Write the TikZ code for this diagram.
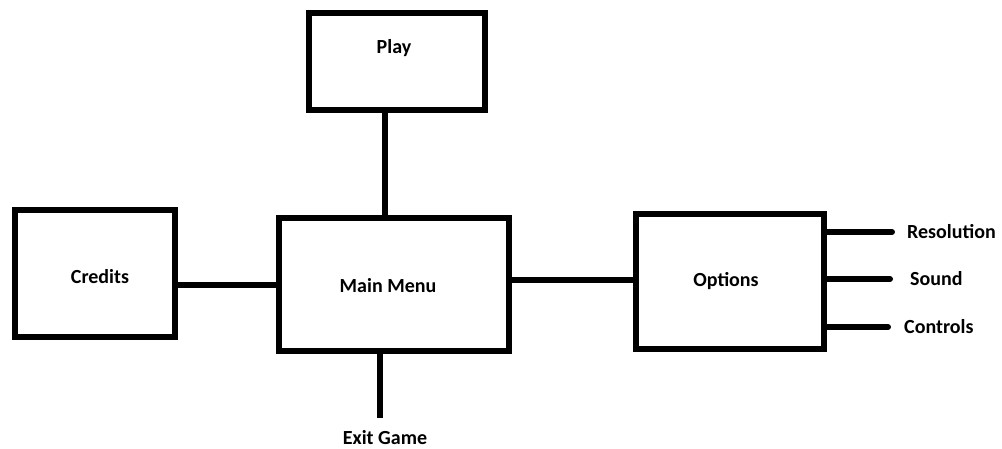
\documentclass[tikz,border=0pt]{standalone}
\usepackage{fontspec}
\setmainfont{Carlito}
\begin{document}
\begin{tikzpicture}[x=1pt,y=-1pt,
  boxnode/.style={draw=black,line width=6pt,fill=white,inner sep=0pt,rectangle},
  lbl/.style={font=\bfseries\fontsize{20}{22}\selectfont,inner sep=0pt,text=black},
  conn/.style={line width=6pt,draw=black},
  leaf/.style={line width=6pt,draw=black,line cap=round}]
\useasboundingbox (0,0) rectangle (1002,449);
\node[boxnode,minimum width=176pt,minimum height=97pt] (play) at (397,61.5) {};
\node[boxnode,minimum width=230pt,minimum height=133pt] (main) at (394,284.5) {};
\node[boxnode,minimum width=160pt,minimum height=127pt] (credits) at (95,273.5) {};
\node[boxnode,minimum width=188pt,minimum height=135pt] (options) at (730,281.5) {};
\node[lbl] (playlbl) at (394,48) {Play};
\node[lbl] (mainlbl) at (388,286) {Main Menu};
\node[lbl] (creditslbl) at (100,277) {Credits};
\node[lbl] (optionslbl) at (726,281) {Options};
\node[lbl] (exitlbl) at (385,438) {Exit Game};
\node[lbl,anchor=west] (res) at (907,232) {Resolution};
\node[lbl,anchor=west] (snd) at (910,279) {Sound};
\node[lbl,anchor=west] (ctl) at (904,327) {Controls};
\coordinate (exitend) at (380,418);
\coordinate (resend) at (892,232);
\coordinate (sndend) at (890,279);
\coordinate (ctlend) at (888,327);
\draw[conn] (play.south -| 385,0) -- (main.north -| 385,0);
\draw[conn] (credits.east |- 0,285) -- (main.west |- 0,285);
\draw[conn] (main.east |- 0,280) -- (options.west |- 0,280);
\draw[conn] (main.south -| exitend) -- (exitend);
\draw[leaf] (options.east |- resend) -- (resend);
\draw[leaf] (options.east |- sndend) -- (sndend);
\draw[leaf] (options.east |- ctlend) -- (ctlend);
\end{tikzpicture}
\end{document}
